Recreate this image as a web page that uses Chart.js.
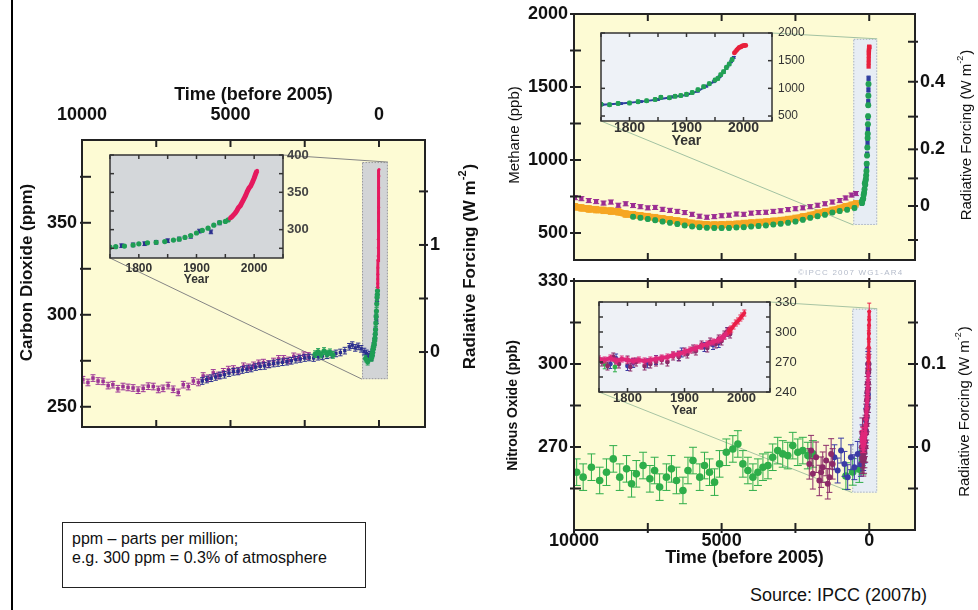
<!DOCTYPE html>
<html>
<head>
<meta charset="utf-8">
<title>Greenhouse gas concentrations over 10,000 years</title>
<script src="https://cdn.jsdelivr.net/npm/chart.js@4.4.1/dist/chart.umd.min.js"></script>
<style>
html, body { margin:0; padding:0; background:#fff; }
#wrap { position:relative; width:978px; height:610px; overflow:hidden; font-family:"Liberation Sans", Arial, Helvetica, sans-serif; }
#wrap canvas { position:absolute; }
.main { z-index:1; }
.inset { z-index:2; }
#lborder { position:absolute; left:11px; top:0; width:2px; height:610px; background:#000; }
#note { position:absolute; left:62px; top:522px; width:304px; height:66px; box-sizing:border-box; border:1px solid #222; padding:6px 0 0 9px; font-size:16px; line-height:19px; color:#111; }
#src { position:absolute; left:750px; top:584px; font-size:18px; line-height:22px; color:#111; white-space:nowrap; }
#copy { position:absolute; left:798px; top:268px; font-size:8px; letter-spacing:1.2px; color:#b5bccb; z-index:5; white-space:nowrap; }
</style>
</head>
<body>
<div id="wrap">
  <div id="lborder"></div>
  <canvas id="co2Main" class="main" width="480" height="375" style="left:14px;top:70px"></canvas>
  <canvas id="ch4Main" class="main" width="484" height="272" style="left:494px;top:0px"></canvas>
  <canvas id="n2oMain" class="main" width="484" height="314" style="left:494px;top:258px"></canvas>
  <canvas id="co2Inset" class="inset" width="225" height="145" style="left:100px;top:145px"></canvas>
  <canvas id="ch4Inset" class="inset" width="225" height="130" style="left:591px;top:23px"></canvas>
  <canvas id="n2oInset" class="inset" width="225" height="125" style="left:589px;top:292px"></canvas>
  <div id="copy">©IPCC 2007 WG1-AR4</div>
  <div id="note">ppm – parts per million;<br>e.g. 300 ppm = 0.3% of atmosphere</div>
  <div id="src">Source: IPCC (2007b)</div>
</div>
<script>
// ======================= DATA =======================
const REF_YEAR = 2005;

// shared ticks
const timeTicks = [10000, 7500, 5000, 2500, 0];
const timeTickLabels = ['10000', '', '5000', '', '0'];
const yearTicks = [1750, 1800, 1850, 1900, 1950, 2000, 2050];
const yearTickLabels = ['', '1800', '', '1900', '', '2000', ''];

// ---- Carbon dioxide (ppm); t = years before 2005 ----
const co2MagentaT = [9970, 9800, 9630, 9460, 9290, 9120, 8960, 8790, 8620, 8450, 8280, 8110, 7940, 7770, 7600, 7430, 7270, 7100, 6930, 6760, 6590, 6420, 6250, 6080, 5920, 5750, 5580, 5410, 5240, 5070, 4900, 4730, 4560, 4390, 4220, 4050, 3890, 3720, 3550, 3380, 3210, 3040, 2870, 2700, 2530, 2380];
const co2MagentaV = [264.7, 263.2, 265.6, 264.0, 263.8, 261.5, 262.0, 259.8, 261.0, 260.5, 260.2, 259.0, 260.0, 261.2, 261.0, 259.4, 260.0, 261.5, 259.5, 257.8, 262.0, 261.0, 264.0, 263.2, 266.7, 265.5, 268.4, 267.0, 269.0, 270.2, 270.5, 269.6, 272.0, 271.4, 272.5, 273.6, 274.0, 273.2, 274.6, 276.0, 276.0, 275.2, 277.4, 276.8, 278.0, 277.6];
const co2BlueT = [5950, 5800, 5650, 5500, 5350, 5200, 5050, 4900, 4750, 4600, 4450, 4300, 4150, 4000, 3850, 3700, 3550, 3400, 3250, 3100, 2950, 2800, 2650, 2500, 2350, 2200, 2050, 1900, 1750, 1600, 1450, 1300, 1150, 1000, 900, 800, 700, 600, 500, 420, 350, 300, 260];
const co2BlueV = [264.0, 264.8, 265.5, 266.2, 267.0, 267.4, 268.3, 269.0, 269.2, 270.0, 270.5, 270.8, 271.6, 272.0, 272.2, 273.0, 273.5, 273.8, 274.2, 274.5, 275.0, 275.6, 276.0, 276.5, 276.8, 276.5, 277.2, 277.6, 278.0, 278.4, 279.0, 279.5, 280.5, 282.6, 283.5, 282.0, 282.8, 281.5, 280.0, 279.0, 277.3, 278.2, 277.0];
const co2BlueYears = [1770, 1790, 1810, 1830, 1850, 1870, 1890, 1905, 1925, 1940];
const co2BlueYearV = [278.5, 279.6, 281.2, 283.0, 285.2, 287.5, 291.0, 298.0, 297.0, 309.0];
const co2GreenT = [2150, 2050, 1950, 1850, 1750, 1650, 1550, 450, 380];
const co2GreenV = [278.6, 279.8, 278.4, 280.3, 278.9, 279.6, 278.2, 276.2, 274.5];
const co2GreenYears = [1750, 1760, 1775, 1790, 1800, 1815, 1830, 1845, 1860, 1870, 1880, 1890, 1900, 1910, 1920, 1930, 1940, 1950, 1955];
const co2GreenYearV = [276.5, 277.2, 278.0, 279.3, 281.0, 282.3, 283.0, 284.0, 286.0, 287.2, 289.5, 292.0, 295.5, 299.0, 302.0, 306.0, 309.5, 311.0, 313.0];
const co2RedYears = [1958, 1961, 1964, 1967, 1970, 1973, 1976, 1979, 1982, 1985, 1988, 1991, 1994, 1997, 2000, 2003, 2005];
const co2RedV = [315.0, 317.0, 319.5, 322.0, 325.5, 329.5, 332.0, 336.5, 341.0, 345.5, 351.0, 355.5, 358.5, 363.5, 369.0, 375.5, 379.0];
const co2YTicks = [250, 275, 300, 325, 350, 375];
const co2YLabels = ['250', '', '300', '', '350', ''];
const co2RfTicks = [0, 0.5, 1, 1.5];
const co2RfLabels = ['0', '', '1', ''];
const co2InsetYTicks = [275, 300, 325, 350, 375, 400];
const co2InsetYLabels = ['', '300', '', '350', '', '400'];

// ---- Methane (ppb) ----
const ch4OldT = [9970, 9750, 9500, 9250, 9000, 8750, 8500, 8250, 8000, 7750, 7500, 7250, 7000, 6750, 6500, 6250, 6000, 5750, 5500, 5250, 5000, 4750, 4500, 4250, 4000, 3750, 3500, 3250, 3000, 2750, 2500, 2250, 2000, 1750, 1500, 1250, 1000, 800, 600, 450];
const ch4MagentaV = [742, 735, 722, 715, 705, 712, 690, 700, 688, 680, 672, 675, 662, 655, 648, 640, 628, 615, 608, 612, 618, 622, 630, 628, 636, 640, 642, 648, 652, 660, 666, 672, 680, 690, 700, 712, 722, 740, 760, 770];
const ch4OrangeV = [680, 672, 665, 660, 655, 650, 645, 630, 625, 618, 612, 605, 598, 590, 582, 575, 566, 560, 556, 555, 556, 558, 560, 565, 568, 572, 575, 580, 585, 592, 600, 610, 620, 635, 645, 655, 668, 680, 690, 700];
const ch4GreenT = [8000, 7750, 7500, 7250, 7000, 6750, 6500, 6250, 6000, 5750, 5500, 5250, 5000, 4750, 4500, 4250, 4000, 3750, 3500, 3250, 3000, 2750, 2500, 2250, 2000, 1750, 1500, 1250, 1000, 750, 500];
const ch4GreenV = [612, 604, 596, 588, 578, 570, 561, 552, 545, 540, 536, 535, 534, 535, 538, 540, 544, 548, 552, 558, 564, 570, 578, 590, 604, 615, 625, 640, 650, 660, 672];
const ch4GreenYears = [1750, 1765, 1780, 1800, 1815, 1830, 1845, 1855, 1870, 1880, 1890, 1900, 1910, 1920, 1930, 1940, 1950, 1955, 1960, 1965, 1970, 1975, 1980];
const ch4GreenYearV = [714, 705, 728, 735, 760, 775, 800, 840, 830, 858, 870, 895, 925, 975, 1030, 1085, 1150, 1180, 1245, 1300, 1375, 1440, 1520];
const ch4BlueYears = [1752, 1785, 1820, 1850, 1875, 1900, 1920, 1935, 1948, 1958, 1965, 1972, 1978, 1983];
const ch4BlueYearV = [705, 725, 760, 800, 845, 880, 950, 1040, 1120, 1210, 1290, 1400, 1480, 1560];
const ch4RedYears = [1984, 1986, 1988, 1990, 1992, 1994, 1996, 1998, 2000, 2002, 2004];
const ch4RedV = [1640, 1665, 1690, 1714, 1735, 1743, 1752, 1765, 1773, 1774, 1776];
const ch4YTicks = [500, 750, 1000, 1250, 1500, 1750, 2000];
const ch4YLabels = ['500', '', '1000', '', '1500', '', '2000'];
const ch4RfTickPpb = [452, 685, 874, 1073, 1297, 1536, 1810];   // ppb level of each forcing tick
const ch4RfLabels = ['', '0', '', '0.2', '', '0.4', ''];
const ch4InsetYTicks = [500, 1000, 1500, 2000];
const ch4InsetYLabels = ['500', '1000', '1500', '2000'];

// ---- Nitrous oxide (ppb) ----
const n2oGreenT = [9910, 9690, 9410, 9130, 8900, 8670, 8450, 8220, 8050, 7890, 7660, 7430, 7270, 7100, 6870, 6700, 6530, 6310, 6140, 5970, 5740, 5580, 5410, 5240, 5070, 4840, 4620, 4450, 4280, 4110, 3940, 3770, 3600, 3430, 3270, 3100, 2930, 2760, 2590, 2420, 2250, 2080, 1910, 790, 560, 335];
const n2oGreenV = [260.9, 259.1, 262.7, 257.9, 260.9, 265.7, 259.1, 262.1, 256.7, 260.3, 263.3, 258.5, 261.5, 255.5, 259.1, 262.1, 257.9, 254.3, 261.5, 265.1, 259.1, 263.3, 260.9, 257.3, 263.9, 268.1, 269.3, 271.1, 263.9, 261.5, 259.1, 260.9, 262.7, 263.3, 266.3, 268.7, 267.5, 266.9, 270.5, 268.1, 268.7, 266.9, 267.5, 259.5, 261.0, 262.0];
const n2oGreenYears = [1760, 1778];
const n2oGreenYearV = [268, 265];
const n2oMaroonT = [2030, 1970, 1910, 1800, 1690, 1630, 1575, 1460, 1405, 1350, 1290, 1240];
const n2oMaroonV = [263.9, 268.7, 260.3, 266.3, 257.9, 260.9, 262.7, 265.1, 256.7, 259.1, 267.5, 263.9];
const n2oMaroonYears = [1755, 1765, 1775, 1785, 1800, 1805, 1815, 1830, 1840, 1850, 1860, 1870, 1880, 1890, 1900, 1905, 1915, 1920, 1930, 1940, 1945, 1955, 1960, 1965, 1970, 1975, 1980];
const n2oMaroonYearV = [270, 266, 275, 268, 272, 265, 270, 266, 268, 270, 272, 270, 276, 275, 280, 278, 283, 281, 287, 284, 290, 288, 293, 291, 297, 300, 298];
const n2oBlueT = [1180, 1070, 955, 840, 730, 620, 505, 390, 280, 225];
const n2oBlueV = [266.3, 261.5, 268.7, 263.9, 259.1, 266.3, 262.7, 267.5, 263.9, 273.5];
const n2oBlueYears = [1770, 1800, 1810, 1835, 1850, 1890, 1895, 1935, 1950, 1960, 1975];
const n2oBlueYearV = [268, 266, 269, 268.7, 272, 276, 279.5, 285, 287, 289, 300];
const n2oPinkYears = [1750, 1760, 1770, 1780, 1790, 1800, 1810, 1820, 1830, 1840, 1850, 1860, 1870, 1880, 1890, 1900, 1910, 1920, 1930, 1940, 1950, 1960, 1965, 1970, 1975, 1980];
const n2oPinkV = [273, 272, 274, 271, 273, 272, 271, 272, 271, 272, 273, 274, 275, 277, 278, 280, 282, 284, 286, 288, 290, 292, 294, 296, 299, 302];
const n2oRedYears = [1978, 1982, 1986, 1990, 1994, 1998, 2001, 2005];
const n2oRedV = [301, 303, 306, 309, 311, 314, 316, 319];
const n2oYTicks = [255, 270, 285, 300, 315, 330];
const n2oYLabels = ['', '270', '', '300', '', '330'];
const n2oRfTicks = [-0.05, 0, 0.05, 0.1, 0.15];
const n2oRfLabels = ['', '0', '', '0.1', ''];
const n2oInsetYTicks = [240, 255, 270, 285, 300, 315, 330];
const n2oInsetYLabels = ['240', '', '270', '', '300', '', '330'];

// ======================= STYLE =======================
const FONT = "'Liberation Sans', Arial, Helvetica, sans-serif";
Chart.defaults.font.family = FONT;
Chart.defaults.font.lineHeight = 1.2;
Chart.defaults.color = '#111';

const COL = {
  co2Mag: '#9c3596', co2Blue: '#2b2f8f', co2Green: '#1f9e55', co2Red: '#e5195e',
  ch4Mag: '#9b2d92', ch4Orange: '#f6a623', ch4Green: '#22a155', ch4Blue: '#2f3f9f', ch4Red: '#e8203c',
  n2oGreen: '#2fae4a', n2oMaroon: '#8c2b68', n2oBlue: '#3b3ca6', n2oPink: '#e0287a', n2oRed: '#ea2048'
};
const tickFont = { size: 18, weight: 'bold', lineHeight: 1.2 };

// per-canvas decoration settings used by plugins
const CFG = {};

// ======================= PLUGINS =======================
const framePlugin = {
  id: 'frameTicks',
  beforeDraw(chart) {
    const c = CFG[chart.canvas.id]; if (!c) return;
    const a = chart.chartArea, ctx = chart.ctx;
    ctx.save(); ctx.fillStyle = c.bg;
    ctx.fillRect(a.left, a.top, a.right - a.left, a.bottom - a.top); ctx.restore();
  },
  afterDraw(chart) {
    const c = CFG[chart.canvas.id]; if (!c) return;
    const a = chart.chartArea, ctx = chart.ctx;
    ctx.save();
    ctx.strokeStyle = c.frame; ctx.lineWidth = c.tickWidth;
    c.marks.forEach(m => {
      const s = chart.scales[m.axis];
      s.ticks.forEach(t => {
        const p = s.getPixelForValue(t.value);
        m.sides.forEach(side => {
          ctx.beginPath();
          if (side === 'left') { ctx.moveTo(a.left - m.out, p); ctx.lineTo(a.left + m.in, p); }
          else if (side === 'right') { ctx.moveTo(a.right + m.out, p); ctx.lineTo(a.right - m.in, p); }
          else if (side === 'top') { ctx.moveTo(p, a.top - m.out); ctx.lineTo(p, a.top + m.in); }
          else { ctx.moveTo(p, a.bottom + m.out); ctx.lineTo(p, a.bottom - m.in); }
          ctx.stroke();
        });
      });
    });
    ctx.lineWidth = c.frameWidth;
    ctx.strokeRect(a.left, a.top, a.right - a.left, a.bottom - a.top);
    // vertical titles (read bottom to top)
    (c.titles || []).forEach(it => {
      const x = (it.side === 'left' ? a.left : a.right) + it.dx;
      const y = (a.top + a.bottom) / 2 + (it.dy || 0);
      const f = `${it.weight} ${it.size}px ${FONT}`;
      const fs = `${it.weight} ${Math.round(it.size * 0.62)}px ${FONT}`;
      ctx.save();
      ctx.translate(x, y); ctx.rotate(-Math.PI / 2);
      ctx.fillStyle = '#111'; ctx.textBaseline = 'middle'; ctx.textAlign = 'left';
      ctx.font = f; const w1 = ctx.measureText(it.text).width; const w3 = it.tail ? ctx.measureText(it.tail).width : 0;
      ctx.font = fs; const w2 = it.sup ? ctx.measureText(it.sup).width + 1 : 0;
      let sx = -(w1 + w2 + w3) / 2;
      ctx.font = f; ctx.fillText(it.text, sx, 0); sx += w1;
      if (it.sup) { ctx.font = fs; ctx.fillText(it.sup, sx, -it.size * 0.42); sx += w2; }
      if (it.tail) { ctx.font = f; ctx.fillText(it.tail, sx, 0); }
      ctx.restore();
    });
    ctx.restore();
  }
};

const zoomBoxPlugin = {
  id: 'zoomBox',
  beforeDatasetsDraw(chart) {
    const c = CFG[chart.canvas.id]; if (!c || !c.box) return;
    const b = c.box, ctx = chart.ctx, xs = chart.scales.x, ys = chart.scales.y;
    const x1 = xs.getPixelForValue(b.t[0]), x2 = xs.getPixelForValue(b.t[1]);
    const yTop = ys.getPixelForValue(b.v[1]), yBot = ys.getPixelForValue(b.v[0]);
    ctx.save();
    ctx.fillStyle = b.fill; ctx.fillRect(x1, yTop, x2 - x1, yBot - yTop);
    ctx.setLineDash([1.5, 1.5]); ctx.strokeStyle = b.stroke; ctx.lineWidth = 1;
    ctx.strokeRect(x1 + 0.5, yTop + 0.5, x2 - x1 - 1, yBot - yTop - 1);
    ctx.setLineDash([]);
    const ic = Chart.getChart(b.inset);
    if (ic) {
      const ia = ic.chartArea;
      const dx = ic.canvas.offsetLeft - chart.canvas.offsetLeft;
      const dy = ic.canvas.offsetTop - chart.canvas.offsetTop;
      ctx.strokeStyle = b.line; ctx.lineWidth = 1;
      ctx.beginPath();
      ctx.moveTo(ia.right + dx, ia.top + dy); ctx.lineTo(x2, yTop);
      ctx.moveTo(ia.left + dx, ia.bottom + dy); ctx.lineTo(x1, yBot);
      ctx.stroke();
    }
    ctx.restore();
  }
};

const errorBarPlugin = {
  id: 'errBars',
  afterDatasetDraw(chart, args) {
    const ds = chart.data.datasets[args.index];
    if (!ds.errors) return;
    const meta = args.meta, xs = meta.xScale, ys = meta.yScale, a = chart.chartArea, ctx = chart.ctx;
    ctx.save();
    ctx.beginPath(); ctx.rect(a.left, a.top, a.right - a.left, a.bottom - a.top); ctx.clip();
    ctx.strokeStyle = ds.borderColor; ctx.lineWidth = ds.errWidth || 1;
    ctx.beginPath();
    ds.data.forEach(p => {
      const px = xs.getPixelForValue(p.x);
      if (px < a.left - 8 || px > a.right + 8) return;
      const yt = ys.getPixelForValue(p.y + ds.errors), yb = ys.getPixelForValue(p.y - ds.errors);
      const c = ds.capW || 0;
      ctx.moveTo(px, yt); ctx.lineTo(px, yb);
      if (c) { ctx.moveTo(px - c, yt); ctx.lineTo(px + c, yt); ctx.moveTo(px - c, yb); ctx.lineTo(px + c, yb); }
    });
    ctx.stroke();
    ctx.restore();
  }
};
Chart.register(framePlugin, zoomBoxPlugin, errorBarPlugin);

// ======================= HELPERS =======================
function tPts(tArr, vArr, inset) { return tArr.map((t, i) => ({ x: inset ? REF_YEAR - t : t, y: vArr[i] })); }
function yPts(yArr, vArr, inset) { return yArr.map((y, i) => ({ x: inset ? y : REF_YEAR - y, y: vArr[i] })); }

function mk(data, color, o) {
  return {
    data, borderColor: color, backgroundColor: color,
    pointStyle: o.style || 'circle', pointRadius: o.r, pointBorderWidth: 0,
    showLine: !!o.line, borderWidth: o.lw || 1, tension: 0,
    errors: o.err || 0, capW: o.cap || 0, errWidth: o.ew || 1,
    order: o.order
  };
}

function axis(o) {
  return {
    type: 'linear', position: o.pos, min: o.min, max: o.max, reverse: !!o.rev,
    grid: { display: false, drawTicks: false },
    border: { display: false },
    ticks: {
      display: !!o.labels, font: o.font, color: o.color || '#111', padding: o.pad || 0,
      maxRotation: 0, minRotation: 0, autoSkip: false,
      callback: (v, i) => (o.labels ? o.labels[i] : '')
    },
    title: o.title ? Object.assign({ display: true, color: '#111' }, o.title) : { display: false },
    afterBuildTicks: s => { s.ticks = o.ticks.map(v => ({ value: v })); },
    afterFit: s => {
      if (o.w != null) s.width = o.w;
      if (o.h != null) s.height = o.h;
      s.paddingLeft = 0; s.paddingRight = 0; s.paddingTop = 0; s.paddingBottom = 0;
    }
  };
}

function baseOptions(scales, padding) {
  return {
    responsive: false, animation: false, events: [],
    layout: { autoPadding: false, padding },
    scales,
    plugins: { legend: { display: false }, tooltip: { enabled: false } }
  };
}

// ======================= DATASETS =======================
function co2Sets(inset) {
  const s = [
    mk(yPts(co2RedYears, co2RedV, inset), COL.co2Red, { line: true, lw: inset ? 5 : 3, r: inset ? 2 : 1.5, order: 0 }),
    mk(tPts(co2GreenT, co2GreenV, inset).concat(yPts(co2GreenYears, co2GreenYearV, inset)), COL.co2Green,
       { r: 2.6, err: inset ? 1.2 : 1.8, cap: 2, order: 1 }),
    mk(tPts(co2BlueT, co2BlueV, inset).concat(yPts(co2BlueYears, co2BlueYearV, inset)), COL.co2Blue,
       { style: 'rect', r: 2.4, err: inset ? 2.5 : 1.8, cap: 2.2, order: 2 })
  ];
  if (!inset) s.push(mk(tPts(co2MagentaT, co2MagentaV, false), COL.co2Mag, { style: 'rect', r: 2.5, err: 1.8, cap: 2.5, order: 3 }));
  return s;
}
function ch4Sets(inset) {
  const s = [
    mk(yPts(ch4RedYears, ch4RedV, inset), COL.ch4Red, { line: true, lw: inset ? 3 : 2, r: inset ? 2.4 : 3, style: inset ? 'circle' : 'rect', order: 0 }),
    mk(yPts(ch4BlueYears, ch4BlueYearV, inset), COL.ch4Blue, { line: inset, lw: 2, r: inset ? 2 : 3, style: 'rect', err: 15, cap: 2, order: 2 }),
    mk(tPts(ch4GreenT, ch4GreenV, inset).concat(yPts(ch4GreenYears, ch4GreenYearV, inset)), COL.ch4Green,
       { r: inset ? 2.5 : 3, err: inset ? 30 : 14, cap: 2, order: 1 })
  ];
  if (!inset) {
    s.push(mk(tPts(ch4OldT, ch4MagentaV, false), COL.ch4Mag, { style: 'rect', r: 3, err: 14, cap: 3, order: 3 }));
    s.push(mk(tPts(ch4OldT, ch4OrangeV, false), COL.ch4Orange, { line: true, lw: 7, r: 3.5, err: 22, cap: 3, order: 4 }));
  }
  return s;
}
function n2oSets(inset) {
  return [
    mk(yPts(n2oRedYears, n2oRedV, inset), COL.n2oRed, { line: true, lw: 3, r: 2, err: 3, cap: 2, order: 0 }),
    mk(yPts(n2oPinkYears, n2oPinkV, inset), COL.n2oPink, { line: true, lw: inset ? 4 : 2, r: 2.2, err: 3, cap: 2, order: 1 }),
    mk(tPts(n2oMaroonT, n2oMaroonV, inset).concat(yPts(n2oMaroonYears, n2oMaroonYearV, inset)), COL.n2oMaroon,
       { r: inset ? 2.4 : 3, err: inset ? 4 : 5.5, cap: inset ? 2 : 3, order: 2 }),
    mk(tPts(n2oBlueT, n2oBlueV, inset).concat(yPts(n2oBlueYears, n2oBlueYearV, inset)), COL.n2oBlue,
       { r: inset ? 2.4 : 3, err: 4.5, cap: inset ? 2 : 3, order: 3 }),
    mk(tPts(n2oGreenT, n2oGreenV, inset).concat(yPts(n2oGreenYears, n2oGreenYearV, inset)), COL.n2oGreen,
       { r: inset ? 2.4 : 3.8, err: 4.8, cap: inset ? 2 : 4, order: 4 })
  ];
}

// ======================= INSETS =======================
const insetMarks = [
  { axis: 'x', sides: ['top', 'bottom'], in: 4, out: 0 },
  { axis: 'y', sides: ['left', 'right'], in: 4, out: 0 }
];
CFG.co2Inset = { bg: '#d4d7da', frame: '#333', frameWidth: 1.5, tickWidth: 1.5, marks: insetMarks };
CFG.ch4Inset = { bg: '#eef2f7', frame: '#333', frameWidth: 1.5, tickWidth: 1.5, marks: insetMarks };
CFG.n2oInset = { bg: '#eef1f6', frame: '#333', frameWidth: 1.5, tickWidth: 1.5, marks: insetMarks };

new Chart('co2Inset', {
  type: 'scatter', data: { datasets: co2Sets(true) },
  options: baseOptions({
    x: axis({ pos: 'bottom', min: 1750, max: 2050, ticks: yearTicks, labels: yearTickLabels, font: { size: 12, weight: 'bold' }, color: '#333', pad: 3, h: 32,
      title: { text: 'Year', font: { size: 12, weight: 'bold', lineHeight: 1.2 }, color: '#333', padding: { top: 0, bottom: 3 } } }),
    y: axis({ pos: 'right', min: 262, max: 400, ticks: co2InsetYTicks, labels: co2InsetYLabels, font: { size: 13, weight: 'bold' }, color: '#444', pad: 4, w: 42 })
  }, { left: 10, top: 10, right: 0, bottom: 0 })
});

new Chart('ch4Inset', {
  type: 'scatter', data: { datasets: ch4Sets(true) },
  options: baseOptions({
    x: axis({ pos: 'bottom', min: 1750, max: 2050, ticks: yearTicks, labels: yearTickLabels, font: { size: 14, weight: 'bold', lineHeight: 1 }, color: '#333', pad: 0, h: 32,
      title: { text: 'Year', font: { size: 14, weight: 'bold', lineHeight: 1 }, color: '#333', padding: { top: 0, bottom: 5 } } }),
    y: axis({ pos: 'right', min: 410, max: 2000, ticks: ch4InsetYTicks, labels: ch4InsetYLabels, font: { size: 12 }, color: '#333', pad: 6, w: 44 })
  }, { left: 10, top: 10, right: 0, bottom: 0 })
});

new Chart('n2oInset', {
  type: 'scatter', data: { datasets: n2oSets(true) },
  options: baseOptions({
    x: axis({ pos: 'bottom', min: 1750, max: 2050, ticks: yearTicks, labels: yearTickLabels, font: { size: 13, weight: 'bold', lineHeight: 1 }, color: '#333', pad: 0, h: 25,
      title: { text: 'Year', font: { size: 12, weight: 'bold', lineHeight: 1 }, color: '#333', padding: { top: 0, bottom: 0 } } }),
    y: axis({ pos: 'right', min: 240, max: 330, ticks: n2oInsetYTicks, labels: n2oInsetYLabels, font: { size: 13 }, color: '#333', pad: 5, w: 44 })
  }, { left: 10, top: 10, right: 0, bottom: 0 })
});

// ======================= MAIN PANELS =======================
const mainBg = '#fdfbd4';

CFG.co2Main = {
  bg: mainBg, frame: '#222', frameWidth: 2, tickWidth: 2,
  marks: [
    { axis: 'x', sides: ['top', 'bottom'], in: 7, out: 0 },
    { axis: 'y', sides: ['left'], in: 9, out: 2 },
    { axis: 'y2', sides: ['right'], in: 6, out: 3 }
  ],
  box: { t: [570, -300], v: [265, 383], fill: '#d2d4d6', stroke: '#9a9a9a', line: '#858585', inset: 'co2Inset' },
  titles: [
    { side: 'left', dx: -55, dy: -11, text: 'Carbon Dioxide (ppm)', size: 17, weight: 'bold' },
    { side: 'right', dx: 45, dy: -17, text: 'Radiative Forcing (W m', sup: '-2', tail: ')', size: 17, weight: 'bold' }
  ]
};
new Chart('co2Main', {
  type: 'scatter', data: { datasets: co2Sets(false) },
  options: baseOptions({
    x: axis({ pos: 'top', min: -1550, max: 10000, rev: true, ticks: timeTicks, labels: timeTickLabels, font: tickFont, pad: 14, h: 70,
      title: { text: 'Time (before 2005)', font: { size: 18, weight: 'bold', lineHeight: 1.2 }, padding: { top: 14, bottom: 0 } } }),
    y: axis({ pos: 'left', min: 239, max: 395, ticks: co2YTicks, labels: co2YLabels, font: tickFont, pad: 5, w: 68 }),
    y2: axis({ pos: 'right', min: -0.70, max: 1.98, ticks: co2RfTicks, labels: co2RfLabels, font: tickFont, pad: 5, w: 69 })
  }, { left: 0, top: 0, right: 0, bottom: 18 })
});

CFG.ch4Main = {
  bg: mainBg, frame: '#222', frameWidth: 2, tickWidth: 2,
  marks: [
    { axis: 'x', sides: ['top', 'bottom'], in: 7, out: 0 },
    { axis: 'y', sides: ['left'], in: 7, out: 4 },
    { axis: 'y2', sides: ['right'], in: 7, out: 3 }
  ],
  box: { t: [540, -270], v: [555, 1830], fill: '#e7edf4', stroke: '#a9b3bd', line: '#a2c2a2', inset: 'ch4Inset' },
  titles: [
    { side: 'left', dx: -59, dy: -2, text: 'Methane (ppb)', size: 15, weight: 'normal' },
    { side: 'right', dx: 52, dy: -2, text: 'Radiative Forcing (W m', sup: '-2', tail: ')', size: 15, weight: 'normal' }
  ]
};
new Chart('ch4Main', {
  type: 'scatter', data: { datasets: ch4Sets(false) },
  options: baseOptions({
    x: axis({ pos: 'bottom', min: -1550, max: 10000, rev: true, ticks: timeTicks, labels: null, font: tickFont, h: 12 }),
    y: axis({ pos: 'left', min: 315, max: 2000, ticks: ch4YTicks, labels: ch4YLabels, font: tickFont, pad: 6, w: 80 }),
    y2: axis({ pos: 'right', min: 315, max: 2000, ticks: ch4RfTickPpb, labels: ch4RfLabels, font: tickFont, pad: 5, w: 63 })
  }, { left: 0, top: 14, right: 0, bottom: 0 })
});

CFG.n2oMain = {
  bg: mainBg, frame: '#222', frameWidth: 2, tickWidth: 2,
  marks: [
    { axis: 'x', sides: ['top', 'bottom'], in: 7, out: 3 },
    { axis: 'y', sides: ['left'], in: 7, out: 4 },
    { axis: 'y2', sides: ['right'], in: 7, out: 3 }
  ],
  box: { t: [575, -270], v: [253.5, 320], fill: '#e7edf4', stroke: '#a9b3bd', line: '#a7c4a3', inset: 'n2oInset' },
  titles: [
    { side: 'left', dx: -61, dy: 0, text: 'Nitrous Oxide (ppb)', size: 14, weight: 'bold' },
    { side: 'right', dx: 50, dy: 6, text: 'Radiative Forcing (W m', sup: '-2', tail: ')', size: 15, weight: 'normal' }
  ]
};
new Chart('n2oMain', {
  type: 'scatter', data: { datasets: n2oSets(false) },
  options: baseOptions({
    x: axis({ pos: 'bottom', min: -1550, max: 10000, rev: true, ticks: timeTicks, labels: timeTickLabels, font: tickFont, pad: 0, h: 42,
      title: { text: 'Time (before 2005)', font: { size: 18, weight: 'bold', lineHeight: 1.2 }, padding: { top: 0, bottom: 3 } } }),
    y: axis({ pos: 'left', min: 240, max: 330, ticks: n2oYTicks, labels: n2oYLabels, font: tickFont, pad: 6, w: 80 }),
    y2: axis({ pos: 'right', min: -0.1, max: 0.2, ticks: n2oRfTicks, labels: n2oRfLabels, font: tickFont, pad: 6, w: 63 })
  }, { left: 0, top: 23, right: 0, bottom: 0 })
});
</script>
</body>
</html>
